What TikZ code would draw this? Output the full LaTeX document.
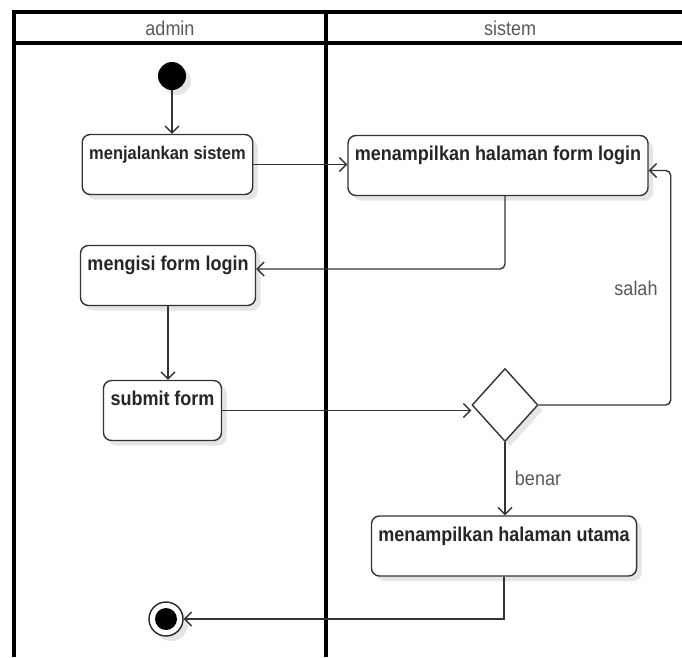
\documentclass[tikz,border=0pt]{standalone}
\usepackage{fontspec}
\setmainfont{Liberation Sans}[FakeStretch=0.9]
\usetikzlibrary{shapes.geometric,arrows.meta,shadows}

\tikzset{
	bayang/.style={drop shadow={shadow xshift=5pt, shadow yshift=-5pt, opacity=0.1, fill=black}},
	aksi/.style={draw=black!80, line width=1.4pt, rounded corners=8pt, fill=white, bayang,
		font=\bfseries\fontsize{20}{24}\selectfont, text=black!85,
		inner xsep=7pt, inner ysep=8pt, text height=17pt, text depth=27pt},
	alur/.style={draw=black!80, line width=1.4pt, -{Straight Barb[length=7pt,width=14pt]}},
	ket/.style={font=\fontsize{20}{24}\selectfont, text=black!65},
	lajur/.style={line width=3.2pt}
}

\begin{document}
\begin{tikzpicture}[x=1pt,y=-1pt]
	\useasboundingbox (0,0) rectangle (682,657);
	% swimlane admin | sistem
	\draw[lajur] (682,12) -- (14,12) -- (14,657);
	\draw[lajur] (14,43) -- (682,43);
	\draw[lajur] (326,12) -- (326,657);
	\node[ket] (lajuradmin) at (170,28) {admin};
	\node[ket] (lajursistem) at (510,28) {sistem};
	% aktivitas
	\node[circle, fill=black, minimum size=28pt, inner sep=0pt, bayang] (mulai) at (172,76) {};
	\node[aksi, font=\bfseries\fontsize{18.3}{22}\selectfont] (jalankan) at (167.5,164.5) {menjalankan sistem};
	\node[aksi] (formlogin) at (498,165.5) {menampilkan halaman form login};
	\node[aksi] (isiform) at (168,275.5) {mengisi form login};
	\node[aksi] (submit) at (162.5,410.5) {submit form};
	\node[diamond, draw=black!80, line width=1.4pt, fill=white, minimum width=66pt, minimum height=73pt, inner sep=0pt, bayang] (cek) at (505,405) {};
	\node[aksi] (utama) at (504,546) {menampilkan halaman utama};
	\node[circle, draw=black!85, line width=1.4pt, fill=white, minimum size=34pt, inner sep=0pt, bayang] (selesai) at (166,619) {};
	\fill (selesai) circle (11pt);
	% alur
	\draw[alur] (mulai) -- (mulai |- jalankan.north);
	\draw[alur] (jalankan.east) -- (jalankan.east -| formlogin.west);
	\draw[alur, rounded corners=5pt] (formlogin.south -| cek) |- ([yshift=6.5pt]isiform.east);
	\draw[alur] (isiform.south) -- (isiform.south |- submit.north);
	\draw[alur] (submit.east) -- (submit.east -| cek.west);
	\draw[alur, rounded corners=5pt] (cek.east) -- ++(132,0) |- ([yshift=-5pt]formlogin.east);
	\draw[alur] (cek.south) -- (cek.south |- utama.north);
	\draw[alur] (utama.south) |- (selesai.east);
	\node[ket] (salah) at (636,288) {salah};
	\node[ket] (benar) at (538,478) {benar};
\end{tikzpicture}
\end{document}
